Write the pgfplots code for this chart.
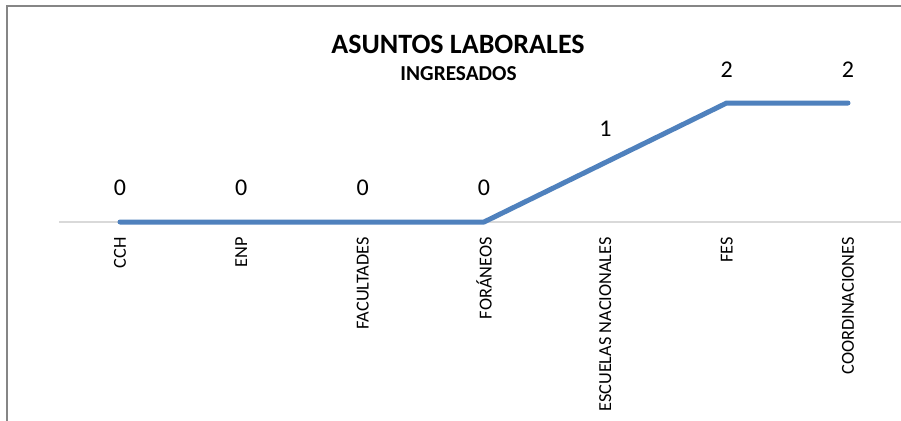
\documentclass[border=0pt]{standalone}
\usepackage{pgfplots}
\pgfplotsset{compat=1.18}
\usepackage{fontspec}
\setmainfont{Carlito}
\definecolor{linecol}{RGB}{79,129,189}
\definecolor{axiscol}{RGB}{217,217,217}
\definecolor{framecol}{RGB}{134,134,134}
\begin{document}
\begin{tikzpicture}[x=1pt,y=1pt]
\useasboundingbox (0,0) rectangle (901,-420);
\clip (0,0) rectangle (901,-420);
\fill[white] (0,0) rectangle (901,-420);
\draw[framecol, line width=2pt] (6.5,-6.5) rectangle (1000,-1000);
\node[anchor=base, font=\fontsize{28}{30}\selectfont\bfseries] at (458,-53) {ASUNTOS LABORALES};
\node[anchor=base, font=\fontsize{21.3}{23}\selectfont\bfseries] at (458.5,-81) {INGRESADOS};
\begin{axis}[
  at={(59.33pt,-222pt)}, anchor=south west,
  scale only axis, width=849.33pt, height=148.75pt,
  xmin=-0.5, xmax=6.5, ymin=0, ymax=2.5,
  axis x line*=bottom, axis y line=none,
  x axis line style={draw=axiscol, line width=2pt, -},
  xtick={0,1,2,3,4,5,6},
  xticklabels={CCH,ENP,FACULTADES,FORÁNEOS,ESCUELAS NACIONALES,FES,COORDINACIONES},
  major tick length=0pt,
  xticklabel shift={15pt},
  xticklabel style={rotate=90, anchor=east, inner sep=0pt, font=\fontsize{18.3}{20}\selectfont},
  clip=false,
  /pgf/number format/assume math mode=true,
  nodes near coords,
  every node near coord/.append style={black, anchor=south, inner sep=0pt, yshift=23.5pt, font=\fontsize{24}{26}\selectfont},
]
\addplot[linecol, line width=5pt, line cap=round, line join=round, mark=none] coordinates {
(0,0) (1,0) (2,0) (3,0) (4,1) (5,2) (6,2)
};
\end{axis}
\end{tikzpicture}
\end{document}
